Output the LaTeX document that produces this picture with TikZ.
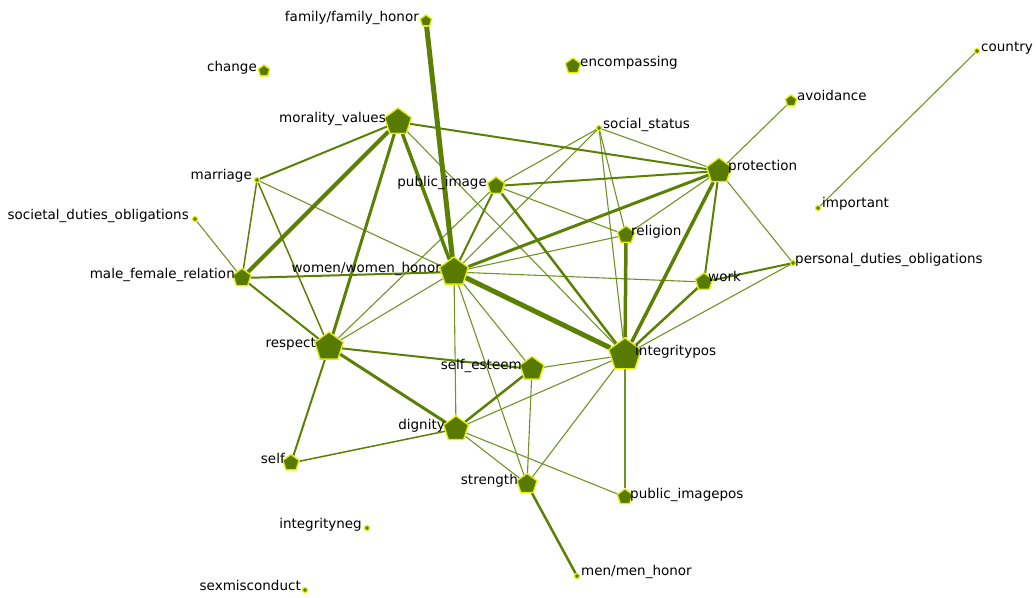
\documentclass[tikz,border=0pt]{standalone}
\usepackage{fontspec}
\setmainfont{DejaVu Sans}
\usetikzlibrary{shapes.geometric,backgrounds}
\definecolor{nodefill}{RGB}{88,122,0}
\definecolor{nodeborder}{RGB}{225,240,0}
\definecolor{edgecol}{RGB}{92,128,4}
\definecolor{thincol}{RGB}{112,148,36}
\tikzset{
  pent/.style={regular polygon, regular polygon sides=5, fill=nodefill, draw=nodeborder, line width=1.3pt, inner sep=0pt, minimum size=#1},
  dotnode/.style={circle, fill=nodefill, draw=nodeborder, line width=1.2pt, inner sep=0pt, minimum size=5pt},
  lbl/.style={font=\fontsize{13.5}{16}\selectfont, inner sep=0pt, text=black},
  lblL/.style={lbl, anchor=base east},
  lblR/.style={lbl, anchor=base west},
  edge/.style={draw=edgecol, line width=#1},
  thinedge/.style={draw=thincol, line width=1.1pt},
}
\begin{document}
\begin{tikzpicture}[x=1pt,y=-1pt]
\useasboundingbox (0,0) rectangle (1036,597);
% nodes
\node[pent=12] (family) at (426,21) {};
\node[pent=12] (change) at (264,71) {};
\node[pent=16] (encomp) at (573,66) {};
\node[pent=28] (morality) at (398,122) {};
\node[dotnode] (social) at (599,128) {};
\node[dotnode] (country) at (977,51) {};
\node[pent=12] (avoid) at (791,101) {};
\node[pent=26] (protect) at (719,171) {};
\node[pent=18] (pubimg) at (496,186) {};
\node[dotnode] (marriage) at (257,180) {};
\node[dotnode] (important) at (818,208) {};
\node[dotnode] (societal) at (195,219) {};
\node[pent=18] (religion) at (626,235) {};
\node[dotnode] (personal) at (793,263) {};
\node[pent=30] (women) at (454,272) {};
\node[pent=19] (malefem) at (242,278) {};
\node[pent=18] (work) at (704,282) {};
\node[pent=30] (respect) at (329,347) {};
\node[pent=34] (integ) at (625,355) {};
\node[pent=25] (selfest) at (532,369) {};
\node[pent=26] (dignity) at (456,429) {};
\node[pent=17] (self) at (291,463) {};
\node[pent=21] (strength) at (527,484) {};
\node[pent=16] (pubpos) at (625,497) {};
\node[dotnode] (integneg) at (367,528) {};
\node[dotnode] (men) at (577,576) {};
\node[dotnode] (sexmis) at (305,590) {};
% labels
\node[lblL] (l-family) at (419,21) {family/family\_honor};
\node[lblL] (l-change) at (257,71) {change};
\node[lblR] (l-encomp) at (580,66) {encompassing};
\node[lblL] (l-morality) at (386,122) {morality\_values};
\node[lblR] (l-social) at (603,128) {social\_status};
\node[lblR] (l-country) at (981,51) {country};
\node[lblR] (l-avoid) at (797,100) {avoidance};
\node[lblR] (l-protect) at (728,170) {protection};
\node[lblL] (l-pubimg) at (487,186) {public\_image};
\node[lblL] (l-marriage) at (252,179) {marriage};
\node[lblR] (l-important) at (822,207) {important};
\node[lblL] (l-societal) at (189,219) {societal\_duties\_obligations};
\node[lblR] (l-religion) at (631,235) {religion};
\node[lblR] (l-personal) at (795,263) {personal\_duties\_obligations};
\node[lblL] (l-women) at (441,272) {women/women\_honor};
\node[lblL] (l-malefem) at (235,278) {male\_female\_relation};
\node[lblR] (l-work) at (708,281) {work};
\node[lblL] (l-respect) at (316,347) {respect};
\node[lblR] (l-integ) at (635,355) {integritypos};
\node[lblL] (l-selfest) at (522,369) {self\_esteem};
\node[lblL] (l-dignity) at (445,429) {dignity};
\node[lblL] (l-self) at (285,463) {self};
\node[lblL] (l-strength) at (518,484) {strength};
\node[lblR] (l-pubpos) at (630,498) {public\_imagepos};
\node[lblL] (l-integneg) at (362,528) {integrityneg};
\node[lblR] (l-men) at (581,575) {men/men\_honor};
\node[lblL] (l-sexmis) at (301,590) {sexmisconduct};
% edges
\begin{pgfonlayer}{background}
\foreach \a/\b in {marriage/women, societal/malefem, morality/integ, respect/women, respect/pubimg,
  women/religion, women/work, women/social, women/dignity, women/strength, women/selfest,
  pubimg/social, pubimg/religion, social/religion, social/integ, social/protect, protect/religion,
  protect/personal, protect/avoid, personal/integ, country/important, integ/selfest, integ/dignity,
  integ/strength, integ/pubpos, selfest/strength, dignity/strength, dignity/pubpos}
  \draw[thinedge] (\a) -- (\b);
\foreach \a/\b in {marriage/malefem, marriage/respect, dignity/self}
  \draw[edge=1.5pt] (\a) -- (\b);
\foreach \a/\b in {morality/protect, morality/marriage, malefem/women, malefem/respect, respect/selfest,
  respect/self, pubimg/protect, pubimg/women, protect/work, work/personal}
  \draw[edge=2pt] (\a) -- (\b);
\foreach \a/\b in {pubimg/integ, work/integ, selfest/dignity, strength/men}
  \draw[edge=2.5pt] (\a) -- (\b);
\foreach \a/\b in {morality/respect, respect/dignity, women/protect}
  \draw[edge=3pt] (\a) -- (\b);
\foreach \a/\b in {morality/women, protect/integ, religion/integ}
  \draw[edge=3.5pt] (\a) -- (\b);
\draw[edge=4pt] (morality) -- (malefem);
\draw[edge=5pt] (family) -- (women);
\draw[edge=5pt] (women) -- (integ);
\end{pgfonlayer}
\end{tikzpicture}
\end{document}
